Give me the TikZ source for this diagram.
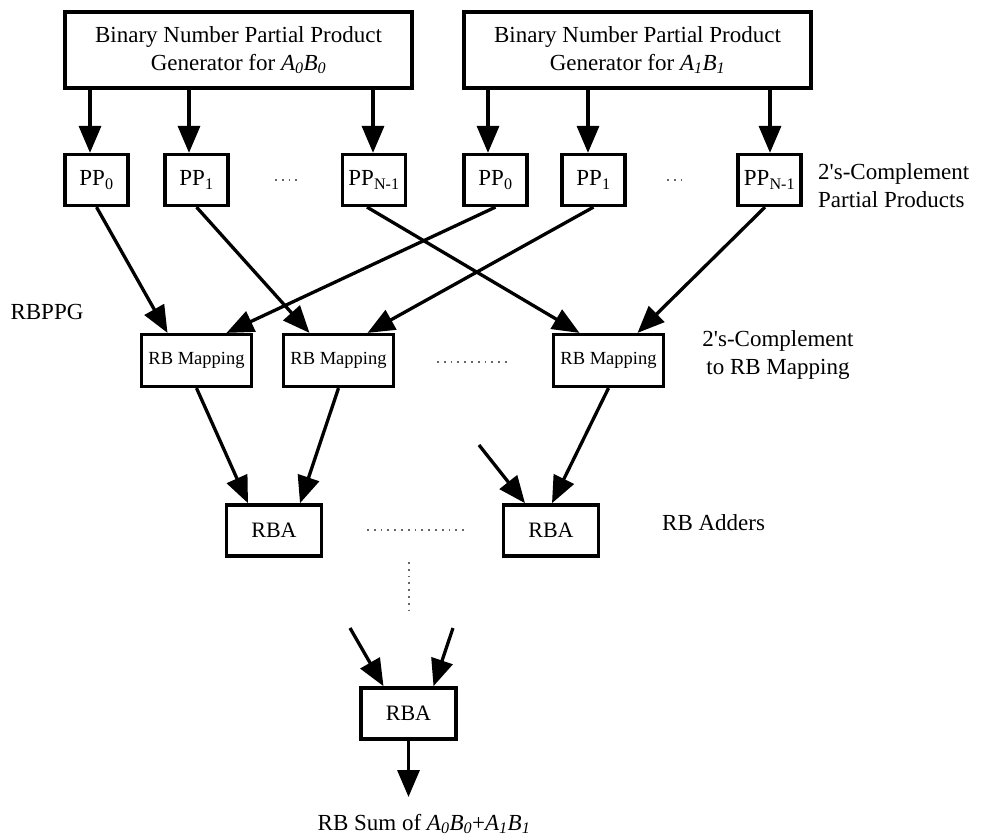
\documentclass[tikz,border=0pt]{standalone}
\usepackage{fontspec}
\setmainfont{Liberation Serif}
\usetikzlibrary{arrows.meta}
\begin{document}
\begin{tikzpicture}[x=1pt,y=-1pt,
  box/.style={draw,line width=3.6pt,inner sep=0pt,align=center,fill=white,
    font=\fontsize{23}{28}\selectfont},
  genbox/.style={box,minimum width=347pt,minimum height=76pt},
  ppbox/.style={box,line width=3.2pt,minimum width=63pt,minimum height=51pt},
  mapbox/.style={box,line width=3.2pt,minimum width=110pt,minimum height=52pt,
    font=\fontsize{18.5}{22}\selectfont},
  rbabox/.style={box,minimum width=95pt,minimum height=51pt,
    font=\fontsize{22}{26}\selectfont},
  lbl/.style={inner sep=0pt,font=\fontsize{23}{28}\selectfont},
  arr/.style={line width=3.3pt,-{Triangle[length=27pt,width=22pt]}},
  dots/.style={black!60,line width=1.1pt,dash pattern=on 1.8pt off 5pt},
]
\useasboundingbox (0,0) rectangle (983,836);

% partial product generators
\node[genbox] (g0) at (238.5,50) {Binary Number Partial Product\\Generator for \textit{A\textsubscript{0}B\textsubscript{0}}};
\node[genbox] (g1) at (637.5,50) {Binary Number Partial Product\\Generator for \textit{A\textsubscript{1}B\textsubscript{1}}};

% two's-complement partial products
\node[ppbox] (a0) at (96.5,180) {PP\textsubscript{0}};
\node[ppbox] (a1) at (196.5,180) {PP\textsubscript{1}};
\node[ppbox] (a2) at (374,180) {PP\textsubscript{N-1}};
\node[ppbox] (b0) at (495.5,180) {PP\textsubscript{0}};
\node[ppbox] (b1) at (593.5,180) {PP\textsubscript{1}};
\node[ppbox] (b2) at (769.5,180) {PP\textsubscript{N-1}};

% RB mapping blocks
\node[mapbox] (m0) at (196.5,360.5) {RB Mapping};
\node[mapbox] (m1) at (338.5,360.5) {RB Mapping};
\node[mapbox] (m2) at (608.5,360.5) {RB Mapping};

% RB adders
\node[rbabox] (r0) at (274,530.5) {RBA};
\node[rbabox] (r1) at (551,530.5) {RBA};
\node[rbabox] (rf) at (408.5,713.5) {RBA};

% side labels
\node[lbl] (rbppg) at (47,312) {RBPPG};
\node[lbl,anchor=west,align=left] (ppl) at (818,186) {2\textquotesingle s-Complement\\Partial Products};
\node[lbl,align=center] (mapl) at (778,355) {2\textquotesingle s-Complement\\to RB Mapping};
\node[lbl,anchor=west] (addl) at (662,523) {RB Adders};
\node[lbl,anchor=base] (sum) at (424,830) {RB Sum of \textit{A\textsubscript{0}B\textsubscript{0}}+\textit{A\textsubscript{1}B\textsubscript{1}}};

% generator outputs
\coordinate (ta0) at ([xshift=-6.5pt]a0.north);
\coordinate (ta1) at ([xshift=-7.5pt]a1.north);
\coordinate (ta2) at ([xshift=-1pt]a2.north);
\coordinate (tb0) at ([xshift=-7.5pt]b0.north);
\coordinate (tb1) at ([xshift=-5.5pt]b1.north);
\coordinate (tb2) at ([xshift=0.5pt]b2.north);
\draw[arr] (ta0 |- g0.south) -- (ta0);
\draw[arr] (ta1 |- g0.south) -- (ta1);
\draw[arr] (ta2 |- g0.south) -- (ta2);
\draw[arr] (tb0 |- g1.south) -- (tb0);
\draw[arr] (tb1 |- g1.south) -- (tb1);
\draw[arr] (tb2 |- g1.south) -- (tb2);

% pairing of partial products into the mapping blocks
\draw[arr] (a0.south) -- ([xshift=-29pt]m0.north);
\draw[arr] (b0.south) -- ([xshift=30pt]m0.north);
\draw[arr] (a1.south) -- ([xshift=-29pt]m1.north);
\draw[arr] (b1.south) -- ([xshift=29pt]m1.north);
\draw[arr] ([xshift=-7pt]a2.south) -- ([xshift=-29pt]m2.north);
\draw[arr] ([xshift=-4.5pt]b2.south) -- ([xshift=29pt]m2.north);

% mapping outputs into the adders
\coordinate (f0) at (479,445);
\draw[arr] (m0.south) -- ([xshift=-26pt]r0.north);
\draw[arr] (m1.south) -- ([xshift=26pt]r0.north);
\draw[arr] (f0) -- ([xshift=-26pt]r1.north);
\draw[arr] (m2.south) -- ([xshift=1pt]r1.north);

% final adder
\coordinate (f1) at (350,628);
\coordinate (f2) at (453,628);
\coordinate (sumtip) at (408.5,797);
\draw[arr] (f1) -- ([xshift=-25pt]rf.north);
\draw[arr] (f2) -- ([xshift=25pt]rf.north);
\draw[arr] (rf.south) -- (sumtip);

% ellipses for the omitted blocks
\draw[dots] (275,180) -- (300,180);
\draw[dots] (667,180) -- (683,180);
\draw[dots] (437,362) -- (507,362);
\draw[dots] (367,530) -- (467,530);
\draw[dots] (409,562) -- (409,614);
\end{tikzpicture}
\end{document}
